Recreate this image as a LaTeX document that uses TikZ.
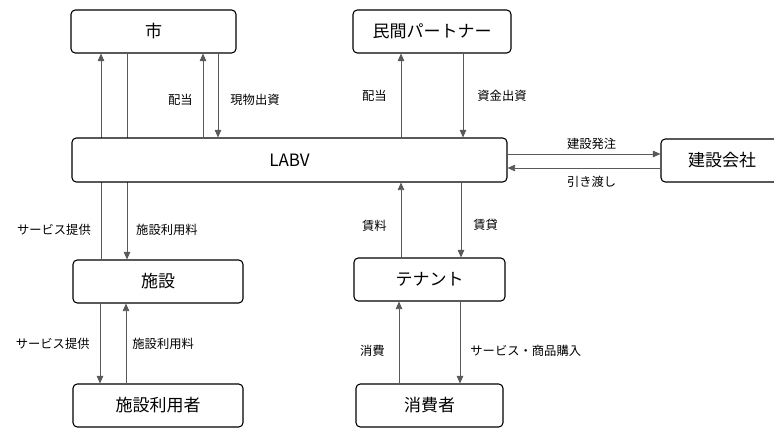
\documentclass[tikz,border=0pt]{standalone}
\usepackage{fontspec}
\setmainfont{Noto Sans CJK JP}
\usetikzlibrary{arrows.meta,positioning}

\begin{document}
\begin{tikzpicture}[x=1pt,y=-1pt,
  party/.style={rounded corners=1.5mm,draw=black,line width=1.1pt,fill=white,
    minimum height=43pt,inner sep=0pt,font=\fontsize{17}{19}\selectfont},
  flow/.style={-{Triangle[length=7.5pt,width=6.5pt]},draw=black!65,line width=.8pt},
  labelbox/.style={inner sep=0pt,font=\fontsize{12.3}{14}\selectfont}
]
\useasboundingbox (0,0) rectangle (774,428);
\node[party,minimum width=165pt] (city) at (153.5,31.5) {市};
\node[party,minimum width=158pt] (partner) at (432,31.5) {民間パートナー};
\node[party,minimum width=122pt] (builder) at (722,160.5) {建設会社};
\node[party,minimum width=170pt] (facility) at (158,281.5) {施設};
\node[party,minimum width=151pt] (tenant) at (429.5,279.5) {テナント};
\node[party,minimum width=170pt] (users) at (158,405.5) {施設利用者};
\node[party,minimum width=147pt] (consumer) at (429.5,405.5) {消費者};
% lines passing behind LABV
\draw[flow] ([xshift=-57]facility.north) -- ([xshift=-57]facility.north |- city.south);
\draw[flow] ([xshift=-31]facility.north |- city.south) -- ([xshift=-31]facility.north);
\node[party,minimum width=435pt,minimum height=44pt] (labv) at (289.5,160) {LABV};
% city and partner
\draw[flow] ([xshift=49.5]city.south |- labv.north) -- node[labelbox,pos=.45,left=10pt] {配当} ([xshift=49.5]city.south);
\draw[flow] ([xshift=64.5]city.south) -- node[labelbox,pos=.55,right=12pt] {現物出資} ([xshift=64.5]city.south |- labv.north);
\draw[flow] ([xshift=-31]partner.south |- labv.north) -- node[labelbox,pos=.5,left=14pt] {配当} ([xshift=-31]partner.south);
\draw[flow] ([xshift=31]partner.south) -- node[labelbox,pos=.5,right=14pt] {資金出資} ([xshift=31]partner.south |- labv.north);
% builder
\draw[flow] ([yshift=6]labv.east) -- node[labelbox,pos=.55,above=4pt] {建設発注} ([yshift=6]labv.east -| builder.west);
\draw[flow] ([yshift=-8]labv.east -| builder.west) -- node[labelbox,pos=.45,below=8pt] {引き渡し} ([yshift=-8]labv.east);
% labels of the through lines
\path ([xshift=-57]facility.north) -- node[labelbox,pos=.38,left=10pt] {サービス提供} ([xshift=-57]facility.north |- labv.south);
\path ([xshift=-31]facility.north) -- node[labelbox,pos=.38,right=9pt] {施設利用料} ([xshift=-31]facility.north |- labv.south);
% tenant
\draw[flow] ([xshift=-28.5]tenant.north) -- node[labelbox,pos=.42,left=14pt] {賃料} ([xshift=-28.5]tenant.north |- labv.south);
\draw[flow] ([xshift=31.5]tenant.north |- labv.south) -- node[labelbox,pos=.56,right=12pt] {賃貸} ([xshift=31.5]tenant.north);
% facility users
\draw[flow] ([xshift=-58]facility.south) -- node[labelbox,pos=.5,left=10pt] {サービス提供} ([xshift=-58]facility.south |- users.north);
\draw[flow] ([xshift=-32]users.north) -- node[labelbox,pos=.5,right=6pt] {施設利用料} ([xshift=-32]users.north |- facility.south);
% consumer
\draw[flow] ([xshift=-30.5]consumer.north) -- node[labelbox,pos=.4,left=14pt] {消費} ([xshift=-30.5]consumer.north |- tenant.south);
\draw[flow] ([xshift=30.5]tenant.south) -- node[labelbox,pos=.6,right=10pt] {サービス・商品購入} ([xshift=30.5]tenant.south |- consumer.north);
\end{tikzpicture}
\end{document}
